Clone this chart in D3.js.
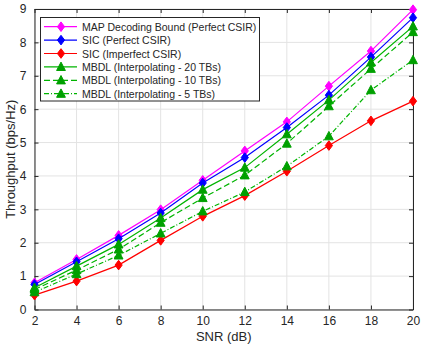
<!DOCTYPE html>
<html>
<head>
<meta charset="utf-8">
<script src="https://cdnjs.cloudflare.com/ajax/libs/d3/7.8.5/d3.min.js"></script>
<style>
  body { margin: 0; background: #fff; }
  text { font-family: "Liberation Sans", Arial, sans-serif; fill: #262626; }
</style>
</head>
<body>
<script>
  // data
  var snr = [2, 4, 6, 8, 10, 12, 14, 16, 18, 20];
  var mapBound  = [0.80, 1.50, 2.22, 2.99, 3.87, 4.75, 5.62, 6.69, 7.74, 8.98];
  var sicPerf   = [0.75, 1.43, 2.12, 2.89, 3.79, 4.55, 5.45, 6.42, 7.56, 8.74];
  var sicImperf = [0.43, 0.85, 1.33, 2.07, 2.79, 3.41, 4.14, 4.91, 5.65, 6.24];
  var mbdl20    = [0.65, 1.30, 1.95, 2.74, 3.59, 4.25, 5.25, 6.27, 7.40, 8.48];
  var mbdl10    = [0.60, 1.18, 1.80, 2.60, 3.34, 4.02, 4.97, 6.09, 7.21, 8.31];
  var mbdl5     = [0.52, 1.06, 1.62, 2.28, 2.94, 3.52, 4.29, 5.19, 6.57, 7.47];
  var xTicks = [2, 4, 6, 8, 10, 12, 14, 16, 18, 20];
  var yTicks = [0, 1, 2, 3, 4, 5, 6, 7, 8, 9];

  var green = "#00b400";
  var series = [
    {name: "MAP Decoding Bound (Perfect CSIR)", vals: mapBound,  color: "#ff00ff", mark: "diamond", dash: null},
    {name: "SIC (Perfect CSIR)",                vals: sicPerf,   color: "#0000ff", mark: "diamond", dash: null},
    {name: "SIC (Imperfect CSIR)",              vals: sicImperf, color: "#ff0000", mark: "diamond", dash: null},
    {name: "MBDL (Interpolating - 20 TBs)",     vals: mbdl20,    color: green,     mark: "triangle", dash: null},
    {name: "MBDL (Interpolating - 10 TBs)",     vals: mbdl10,    color: green,     mark: "triangle", dash: "6,3"},
    {name: "MBDL (Interpolating - 5 TBs)",      vals: mbdl5,     color: green,     mark: "triangle", dash: "5,2,1,2"}
  ];

  var width = 423, height = 349;
  var pLeft = 34.5, pRight = 413, pTop = 9, pBottom = 309.5;

  var svg = d3.select("body").append("svg")
      .attr("width", width).attr("height", height);

  var x = d3.scaleLinear().domain([2, 20]).range([pLeft, pRight]);
  var y = d3.scaleLinear().domain([0, 9]).range([pBottom, pTop]);

  // grid
  var grid = svg.append("g").attr("stroke", "#e3e3e3").attr("stroke-width", 1);
  grid.selectAll("line.gx").data(xTicks).enter().append("line")
      .attr("x1", d => x(d)).attr("x2", d => x(d)).attr("y1", pTop).attr("y2", pBottom);
  grid.selectAll("line.gy").data(yTicks).enter().append("line")
      .attr("x1", pLeft).attr("x2", pRight).attr("y1", d => y(d)).attr("y2", d => y(d));

  // axes, box with inward ticks on all four sides
  var xAxis = d3.axisBottom(x).tickValues(xTicks).tickSizeInner(-4).tickSizeOuter(0).tickPadding(7);
  var yAxis = d3.axisLeft(y).tickValues(yTicks).tickSizeInner(-4).tickSizeOuter(0).tickPadding(8);
  var gx = svg.append("g").attr("transform", "translate(0," + pBottom + ")").call(xAxis);
  var gy = svg.append("g").attr("transform", "translate(" + pLeft + ",0)").call(yAxis);
  var gxt = svg.append("g").attr("transform", "translate(0," + pTop + ")")
      .call(d3.axisTop(x).tickValues(xTicks).tickSizeInner(-4).tickSizeOuter(0).tickFormat(""));
  var gyr = svg.append("g").attr("transform", "translate(" + pRight + ",0)")
      .call(d3.axisRight(y).tickValues(yTicks).tickSizeInner(-4).tickSizeOuter(0).tickFormat(""));
  [gx, gy, gxt, gyr].forEach(function(g) {
    g.selectAll("path").attr("stroke", "#262626");
    g.selectAll("line").attr("stroke", "#262626");
    g.selectAll("text").style("font-size", "12px").attr("fill", "#262626")
      .style("font-family", "'Liberation Sans', Arial, sans-serif");
  });

  svg.append("text").attr("x", (pLeft + pRight) / 2).attr("y", 341)
      .attr("text-anchor", "middle").style("font-size", "13px").text("SNR (dB)");
  svg.append("text").attr("transform", "translate(15," + ((pTop + pBottom) / 2) + ") rotate(-90)")
      .attr("text-anchor", "middle").style("font-size", "13px").text("Throughput (bps/Hz)");

  var diamond = "M0,-4.8L3.6,0L0,4.8L-3.6,0Z";
  var triangle = "M0,-4.8L4.4,3.6L-4.4,3.6Z";
  var line = d3.line().x((d, i) => x(snr[i])).y(d => y(d));

  var plot = svg.append("g");
  series.forEach(function(s) {
    var g = plot.append("g");
    g.append("path").attr("d", line(s.vals)).attr("fill", "none")
      .attr("stroke", s.color).attr("stroke-width", 1.2)
      .attr("stroke-dasharray", s.dash);
    g.selectAll("path.m").data(s.vals).enter().append("path")
      .attr("transform", (d, i) => "translate(" + x(snr[i]) + "," + y(d) + ")")
      .attr("d", s.mark === "diamond" ? diamond : triangle)
      .attr("fill", s.mark === "diamond" ? s.color : "#00a000")
      .attr("stroke", s.mark === "diamond" ? s.color : "#00a000");
  });

  // legend
  var lx = 40.5, ly = 17.5, lw = 219, lh = 83.5;
  var leg = svg.append("g");
  leg.append("rect").attr("x", lx).attr("y", ly).attr("width", lw).attr("height", lh)
      .attr("fill", "#fff").attr("stroke", "#262626").attr("stroke-width", 1);
  series.forEach(function(s, i) {
    var yy = 26.7 + i * 13.4;
    leg.append("line").attr("x1", 44).attr("x2", 77).attr("y1", yy).attr("y2", yy)
      .attr("stroke", s.color).attr("stroke-width", 1.2).attr("stroke-dasharray", s.dash);
    leg.append("path").attr("transform", "translate(61," + yy + ")")
      .attr("d", s.mark === "diamond" ? diamond : triangle)
      .attr("fill", s.mark === "diamond" ? s.color : "#00a000")
      .attr("stroke", s.mark === "diamond" ? s.color : "#00a000");
    leg.append("text").attr("x", 82).attr("y", yy + 4).style("font-size", "10.5px").text(s.name);
  });
</script>
</body>
</html>
